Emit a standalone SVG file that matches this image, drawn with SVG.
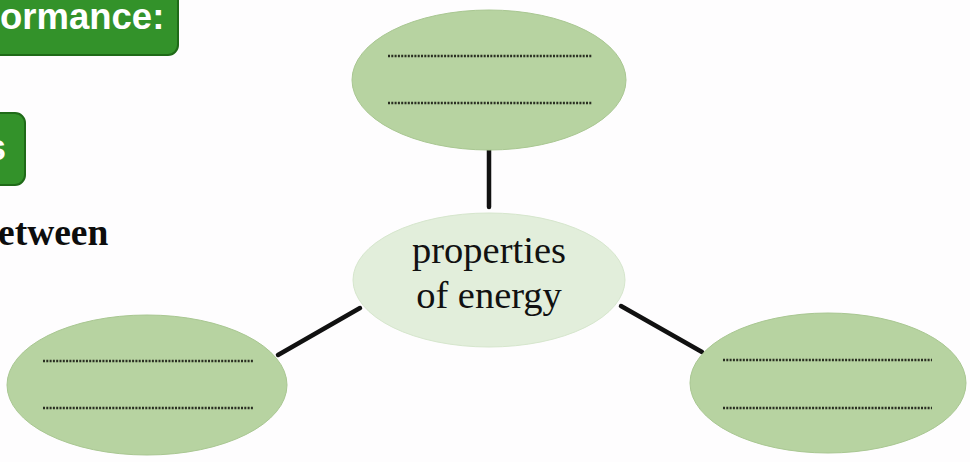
<svg xmlns="http://www.w3.org/2000/svg" width="970" height="462" viewBox="0 0 970 462">
<style>
.blank{fill:#b7d3a1;stroke:#a9c792;stroke-width:1}
.centre{fill:#e2eedb;stroke:#d6e6cd;stroke-width:1}
.dots{stroke:#2a2f22;stroke-width:2.6;stroke-dasharray:2 1.3;fill:none}
.conn{stroke:#111;stroke-width:4.5;stroke-linecap:round}
.badge{fill:#33922a;stroke:#1f6a18;stroke-width:2}
.badgetxt{font-family:"Liberation Sans",Arial,sans-serif;font-weight:bold;fill:#ffffff}
.label{font-family:"Liberation Serif","Times New Roman",serif;font-size:38.5px;fill:#111}
</style>
<rect width="970" height="462" fill="#fefdfe"/>
<g id="header-badge">
<rect class="badge" x="-20" y="-20" width="198" height="75" rx="10"/>
<text class="badgetxt" x="0" y="29" font-size="36.5">ormance:</text>
</g>
<g id="side-badge">
<rect class="badge" x="-20" y="113" width="45" height="72" rx="10"/>
<text class="badgetxt" x="-14" y="160" font-size="36">s</text>
</g>
<text id="between" x="-2" y="245" font-family="'Liberation Serif','Times New Roman',serif" font-weight="bold" font-size="37.5" fill="#0d0d0d">etween</text>
<g id="connectors">
<line class="conn" x1="489" y1="149" x2="489" y2="207"/>
<line class="conn" x1="278" y1="355" x2="360" y2="308"/>
<line class="conn" x1="621" y1="306" x2="702" y2="352"/>
</g>
<g id="node-top">
<ellipse class="blank" cx="489" cy="80" rx="137" ry="70"/>
<line class="dots" x1="388" y1="56" x2="592" y2="56"/>
<line class="dots" x1="388" y1="103" x2="592" y2="103"/>
</g>
<g id="node-centre">
<ellipse class="centre" cx="489" cy="280" rx="136" ry="67"/>
<text class="label" x="489" y="263" text-anchor="middle">properties</text>
<text class="label" x="489" y="308" text-anchor="middle">of energy</text>
</g>
<g id="node-left">
<ellipse class="blank" cx="147" cy="385" rx="140" ry="70"/>
<line class="dots" x1="43" y1="361" x2="253" y2="361"/>
<line class="dots" x1="43" y1="408" x2="253" y2="408"/>
</g>
<g id="node-right">
<ellipse class="blank" cx="828" cy="383" rx="138" ry="70"/>
<line class="dots" x1="723" y1="360" x2="932" y2="360"/>
<line class="dots" x1="723" y1="408" x2="932" y2="408"/>
</g>
</svg>
